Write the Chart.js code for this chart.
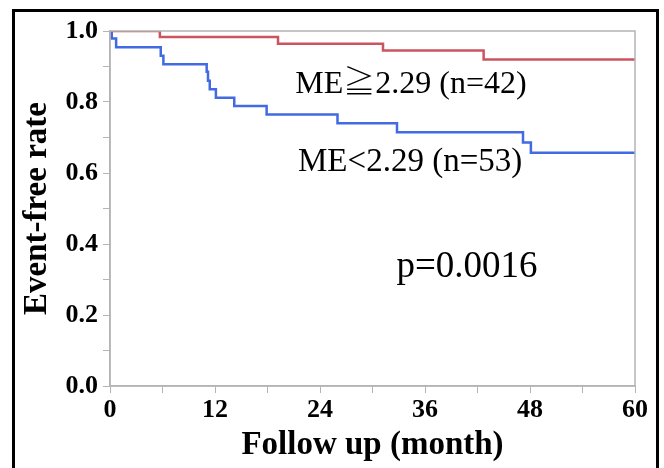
<!DOCTYPE html>
<html>
<head>
<meta charset="utf-8">
<script src="https://cdn.jsdelivr.net/npm/chart.js@4/dist/chart.umd.min.js"></script>
<style>
  html, body { margin: 0; padding: 0; background: #fff; overflow: hidden; }
  #wrap { position: relative; width: 664px; height: 468px; }
  #frame { position: absolute; left: 12px; top: 9px; width: 647px; height: 480px; box-sizing: border-box; border: 3px solid #000; pointer-events: none; }
</style>
</head>
<body>
<div id="wrap">
  <canvas id="km" width="664" height="468"></canvas>
  <div id="frame"></div>
</div>
<script>
// Kaplan-Meier steps (time in months, event-free rate)
const highTimes = [0, 5.7, 19.2, 31.2, 42.7, 60];
const highRate  = [1.0, 0.983, 0.964, 0.945, 0.920, 0.920];

const lowTimes = [0, 0.2, 0.7, 5.8, 6.1, 11.05, 11.2, 11.4, 12.1, 14.2, 17.9, 26.0, 32.8, 47.2, 48.1, 60];
const lowRate  = [1.0, 0.979, 0.954, 0.930, 0.906, 0.885, 0.860, 0.836, 0.812, 0.789, 0.765, 0.740, 0.715, 0.686, 0.657, 0.657];

const xMajor = [0, 12, 24, 36, 48, 60];
const yMajor = [0.0, 0.2, 0.4, 0.6, 0.8, 1.0];

// text labels placed in data units (month, rate) at the baseline
const notes = [
  { text: 'ME≧2.29 (n=42)', x: 34.4, y: 0.825, size: 32 },
  { text: 'ME<2.29 (n=53)', x: 34.3, y: 0.606, size: 33 },
  { text: 'p=0.0016', x: 40.8, y: 0.307, size: 37 }
];

const serif = '"Liberation Serif", "Times New Roman", "Noto Serif CJK JP", "Noto Sans CJK JP", serif';
const grey = '#b4b4b4';

function toPoints(xs, ys) {
  return xs.map((x, i) => ({ x: x, y: ys[i] }));
}

const boxAndNotes = {
  id: 'boxAndNotes',
  afterDatasetsDraw(chart) {
    const { ctx, chartArea, scales } = chart;
    ctx.save();
    ctx.strokeStyle = grey;
    ctx.lineWidth = 1.5;
    ctx.strokeRect(chartArea.left, chartArea.top, chartArea.right - chartArea.left, chartArea.bottom - chartArea.top);
    ctx.fillStyle = '#000';
    ctx.textAlign = 'center';
    ctx.textBaseline = 'alphabetic';
    notes.forEach(n => {
      ctx.font = n.size + 'px ' + serif;
      ctx.fillText(n.text, scales.x.getPixelForValue(n.x), scales.y.getPixelForValue(n.y));
    });
    ctx.restore();
  }
};

new Chart(document.getElementById('km'), {
  type: 'line',
  data: {
    datasets: [
      {
        label: 'ME≧2.29',
        data: toPoints(highTimes, highRate),
        borderColor: 'rgb(204, 84, 96)',
        borderWidth: 2.5,
        stepped: 'before',
        pointRadius: 0,
        fill: false
      },
      {
        label: 'ME<2.29',
        data: toPoints(lowTimes, lowRate),
        borderColor: 'rgb(66, 106, 226)',
        borderWidth: 2.5,
        stepped: 'before',
        pointRadius: 0,
        fill: false
      }
    ]
  },
  options: {
    responsive: false,
    animation: false,
    layout: { padding: { left: 0, top: 31, right: 29, bottom: 0 } },
    plugins: { legend: { display: false }, tooltip: { enabled: false } },
    scales: {
      x: {
        type: 'linear',
        min: 0,
        max: 60,
        afterFit(scale) { scale.height = 82; },
        afterBuildTicks(scale) {
          const t = [];
          for (let v = 0; v <= 60; v += 6) t.push({ value: v });
          scale.ticks = t;
        },
        grid: { drawOnChartArea: false, color: grey, tickLength: 7, tickColor: grey },
        border: { color: grey, width: 1.5 },
        ticks: {
          autoSkip: false,
          maxRotation: 0,
          padding: 2,
          color: '#000',
          font: { family: serif, size: 26, weight: 'bold' },
          callback: v => xMajor.includes(v) ? String(v) : ''
        },
        title: {
          display: true,
          text: 'Follow up (month)',
          color: '#000',
          font: { family: serif, size: 33, weight: 'bold' },
          padding: { top: 0, bottom: 3 }
        }
      },
      y: {
        min: 0,
        max: 1,
        afterFit(scale) { scale.width = 110; },
        afterBuildTicks(scale) {
          const t = [];
          for (let i = 0; i <= 10; i++) t.push({ value: i / 10 });
          scale.ticks = t;
        },
        grid: { drawOnChartArea: false, color: grey, tickLength: 7, tickColor: grey },
        border: { color: grey, width: 1.5 },
        ticks: {
          autoSkip: false,
          padding: 5,
          color: '#000',
          font: { family: serif, size: 26, weight: 'bold' },
          callback: v => {
            const r = Math.round(v * 10) / 10;
            return yMajor.some(m => Math.abs(m - r) < 1e-9) && Math.round(v * 10) % 2 === 0 ? r.toFixed(1) : '';
          }
        },
        title: {
          display: true,
          text: 'Event-free rate',
          color: '#000',
          font: { family: serif, size: 33, weight: 'bold' },
          padding: { top: 18, bottom: 0 }
        }
      }
    }
  },
  plugins: [boxAndNotes]
});
</script>
</body>
</html>
